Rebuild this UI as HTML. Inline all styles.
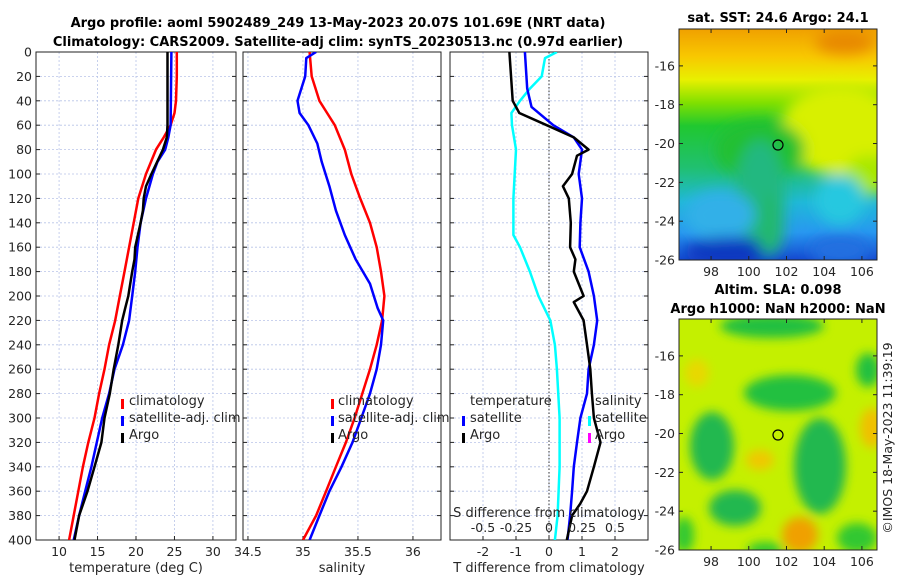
<!DOCTYPE html>
<html><head><meta charset="utf-8">
<style>
html,body{margin:0;padding:0;background:#fff;}
svg{display:block;font-family:"DejaVu Sans","Liberation Sans",sans-serif;}
.tk{font-size:12.5px;fill:#262626;}
.tt{font-size:13px;font-weight:bold;fill:#000;}
.lg{font-size:13px;fill:#262626;}
</style></head>
<body>
<svg id="fig" width="900" height="580" viewBox="0 0 900 580">
<defs>
<filter id="blur1" x="-20%" y="-20%" width="140%" height="140%"><feGaussianBlur stdDeviation="7"/></filter>
<filter id="blur2" x="-20%" y="-20%" width="140%" height="140%"><feGaussianBlur stdDeviation="5"/></filter>
<clipPath id="cm1"><rect x="679" y="29" width="198" height="231"/></clipPath>
<clipPath id="cm2"><rect x="679" y="319" width="198" height="231"/></clipPath>
<clipPath id="cp1"><rect x="36" y="52" width="200" height="488"/></clipPath>
<clipPath id="cp2"><rect x="243" y="52" width="198" height="488"/></clipPath>
<clipPath id="cp3"><rect x="450" y="52" width="198" height="488"/></clipPath>
<linearGradient id="sstg" x1="0" y1="0" x2="0" y2="1">
<stop offset="0" stop-color="#f0a000"/><stop offset="0.12" stop-color="#f8c800"/>
<stop offset="0.22" stop-color="#e8f000"/><stop offset="0.32" stop-color="#80e000"/>
<stop offset="0.42" stop-color="#20c830"/><stop offset="0.6" stop-color="#20c070"/>
<stop offset="0.75" stop-color="#20b8d8"/><stop offset="0.88" stop-color="#2898f0"/>
<stop offset="1" stop-color="#1448d0"/></linearGradient>
</defs>
<text class="tt" x="338" y="27" text-anchor="middle">Argo profile: aoml 5902489_249 13-May-2023 20.07S 101.69E (NRT data)</text>
<text class="tt" x="338" y="46" text-anchor="middle">Climatology: CARS2009. Satellite-adj clim: synTS_20230513.nc (0.97d earlier)</text>

<!-- SST map -->
<g>
<g clip-path="url(#cm1)">
<rect x="679" y="29" width="198" height="231" fill="url(#sstg)"/>
<g filter="url(#blur1)">
<ellipse cx="840" cy="130" rx="60" ry="45" fill="#d8f000"/>
<ellipse cx="870" cy="175" rx="25" ry="20" fill="#a8e800"/>
<ellipse cx="760" cy="150" rx="45" ry="30" fill="#20c030"/>
<ellipse cx="760" cy="195" rx="25" ry="55" fill="#20b880"/>
<ellipse cx="840" cy="200" rx="25" ry="25" fill="#28c8e0"/>
<ellipse cx="720" cy="215" rx="35" ry="25" fill="#30b0e8"/>
<ellipse cx="840" cy="250" rx="30" ry="15" fill="#2070e0"/>
<ellipse cx="730" cy="252" rx="45" ry="15" fill="#1038c0"/>
<ellipse cx="770" cy="225" rx="14" ry="30" fill="#20b870"/>
<ellipse cx="845" cy="42" rx="30" ry="12" fill="#e88800"/>
</g></g>
<rect x="679" y="29" width="198" height="231" fill="none" stroke="#222" stroke-width="1"/>
<circle cx="778" cy="145" r="5" fill="none" stroke="#000" stroke-width="1.2"/>
<text class="tt" x="778" y="22" text-anchor="middle">sat. SST: 24.6 Argo: 24.1</text>
</g>

<!-- SLA map -->
<g>
<g clip-path="url(#cm2)">
<rect x="679" y="319" width="198" height="231" fill="#c4f000"/>
<g filter="url(#blur2)">
<ellipse cx="772" cy="326" rx="52" ry="12" fill="#20c040"/>
<ellipse cx="790" cy="393" rx="46" ry="18" fill="#20c040"/>
<ellipse cx="712" cy="446" rx="22" ry="34" fill="#20b850"/>
<ellipse cx="820" cy="466" rx="26" ry="48" fill="#20b850"/>
<ellipse cx="735" cy="508" rx="26" ry="18" fill="#20b850"/>
<ellipse cx="868" cy="370" rx="12" ry="17" fill="#20c040"/>
<ellipse cx="684" cy="535" rx="10" ry="18" fill="#30c830"/>
<ellipse cx="857" cy="538" rx="20" ry="15" fill="#30c830"/>
<ellipse cx="765" cy="550" rx="18" ry="8" fill="#30c830"/>
<ellipse cx="800" cy="535" rx="18" ry="18" fill="#f0a000"/>
<ellipse cx="760" cy="460" rx="14" ry="10" fill="#f0c800"/>
<ellipse cx="872" cy="428" rx="12" ry="20" fill="#f0c000"/>
<ellipse cx="697" cy="373" rx="12" ry="14" fill="#e8d800"/>
</g></g>
<rect x="679" y="319" width="198" height="231" fill="none" stroke="#222" stroke-width="1"/>
<circle cx="778" cy="435" r="5" fill="none" stroke="#000" stroke-width="1.2"/>
<text class="tt" x="778" y="294" text-anchor="middle">Altim. SLA: 0.098</text>
<text class="tt" x="778" y="313" text-anchor="middle">Argo h1000: NaN h2000: NaN</text>
</g>
<text class="tk" x="0" y="0" transform="translate(892,438) rotate(-90)" text-anchor="middle">©IMOS 18-May-2023 11:39:19</text>
<g id="axes"></g>
</svg>
<script>
// ---- data ----
const depthTClim = [0,20,40,50,60,70,80,100,120,140,160,180,200,220,240,260,280,300,320,340,360,380,400];
const tempClim   = [25.3,25.3,25.2,25.0,24.5,23.6,22.6,21.3,20.3,19.7,19.1,18.5,17.9,17.3,16.5,15.9,15.2,14.6,13.8,13.1,12.5,11.9,11.3];
const depthTSat  = [0,60,70,80,90,100,120,140,160,180,200,220,240,260,280,300,320,340,360,380,400];
const tempSat    = [24.6,24.5,24.2,23.8,22.8,22.2,21.3,20.6,20.2,19.9,19.5,19.1,18.3,17.2,16.5,15.6,14.9,14.2,13.4,12.6,11.9];
const depthTArgo = [0,60,70,80,100,110,120,130,140,160,170,180,200,210,220,240,260,280,300,320,340,360,380,400];
const tempArgo   = [24.1,24.1,24.0,23.5,22.0,21.3,21.0,20.9,20.6,19.9,19.8,19.5,19.0,18.6,18.2,17.7,17.1,16.6,15.9,15.5,14.6,13.7,12.6,12.0];
const depthSClim = [0,20,40,50,60,80,100,120,140,160,180,200,220,240,260,280,300,320,340,360,380,400];
const salClim    = [35.06,35.08,35.15,35.22,35.29,35.38,35.44,35.52,35.61,35.67,35.71,35.74,35.72,35.67,35.61,35.54,35.47,35.39,35.30,35.21,35.12,35.00];
const depthSSat  = [0,5,20,40,50,60,75,90,110,130,150,170,190,210,220,240,260,280,300,320,340,360,380,400];
const salSat     = [35.12,35.03,35.02,34.95,34.97,35.05,35.13,35.17,35.24,35.30,35.38,35.48,35.61,35.68,35.73,35.71,35.67,35.61,35.53,35.45,35.35,35.24,35.15,35.06];
const depthDArgo = [0,40,50,60,70,80,85,100,110,120,140,160,170,180,200,205,220,240,260,280,300,320,340,360,370,380,400];
const tDiffArgo  = [-1.2,-1.1,-0.9,-0.07,0.75,1.2,0.85,0.7,0.42,0.6,0.66,0.64,0.8,0.75,1.05,0.75,1.05,1.15,1.25,1.3,1.36,1.56,1.36,1.15,0.95,0.7,0.54];
const depthDSat  = [0,30,45,60,70,80,100,120,140,160,180,200,220,240,260,280,300,320,340,360,380,400];
const tDiffSat   = [-0.73,-0.66,-0.53,0.13,0.75,1.0,0.9,1.0,0.95,0.93,1.2,1.36,1.46,1.36,1.2,1.15,0.95,0.85,0.75,0.7,0.64,0.56];
const depthDS    = [0,5,20,30,40,50,60,80,100,120,140,150,160,180,200,220,240,260,300,340,380,400];
const sDiffSat   = [0.06,-0.03,-0.055,-0.145,-0.22,-0.285,-0.28,-0.25,-0.26,-0.27,-0.27,-0.27,-0.22,-0.145,-0.08,0.01,0.045,0.06,0.08,0.08,0.065,0.045];
const depthTicks = [0,20,40,60,80,100,120,140,160,180,200,220,240,260,280,300,320,340,360,380,400];
const tTicks = [10,15,20,25,30];
const sTicks = [34.5,35,35.5,36];
const dTicks = [-2,-1,0,1,2];
const sdTicks = [-0.5,-0.25,0,0.25,0.5];
const sdTickLabels = ['-0.5','-0.25','0','0.25','0.5'];
const latTicks = [-16,-18,-20,-22,-24,-26];
const lonTicks = [98,100,102,104,106];

const NS='http://www.w3.org/2000/svg';
const root=document.getElementById('axes');
function mk(tag,attrs,parent){const e=document.createElementNS(NS,tag);for(const k in attrs)e.setAttribute(k,attrs[k]);(parent||root).appendChild(e);return e;}
const Y0=52,Y1=540;
const yD=d=>Y0+(d/400)*(Y1-Y0);
function lin(d0,d1,p0,p1){return v=>p0+(v-d0)/(d1-d0)*(p1-p0);}

const P1={x0:36,x1:236,sx:lin(7,33,36,236)};
const P2={x0:243,x1:441,sx:lin(34.455,36.255,243,441)};
const P3={x0:450,x1:648,sx:lin(-3,3,450,648)};
const sdx=lin(-0.75,0.75,450,648);

function panel(P,ticks,labels,name,showY){
  const g=mk('g',{});
  
  
  depthTicks.forEach(d=>{
    const l=mk('line',{x1:P.x0,x2:P.x1,y1:yD(d),y2:yD(d),stroke:'#b8c4e8','stroke-width':0.8,'stroke-dasharray':'2,2'},g);
    
    mk('line',{x1:P.x0,x2:P.x0+4,y1:yD(d),y2:yD(d),stroke:'#222'},g);
    mk('line',{x1:P.x1,x2:P.x1-4,y1:yD(d),y2:yD(d),stroke:'#222'},g);
    if(showY){const t=mk('text',{x:P.x0-4,y:yD(d)+4.5,'text-anchor':'end',class:'tk'},g);t.textContent=d;
      }
  });
  ticks.forEach((v,i)=>{
    const x=P.sx(v);
    mk('line',{x1:x,x2:x,y1:Y0,y2:Y1,stroke:'#b8c4e8','stroke-width':0.8,'stroke-dasharray':'2,2'},g);
    mk('line',{x1:x,x2:x,y1:Y1,y2:Y1-4,stroke:'#222'},g);
    const t=mk('text',{x:x,y:556,'text-anchor':'middle',class:'tk'},g);t.textContent=labels[i];
    
  });
  mk('rect',{x:P.x0,y:Y0,width:P.x1-P.x0,height:Y1-Y0,fill:'none',stroke:'#222','stroke-width':1},g);
  return g;
}
function line(P,sx,depths,vals,color,clip,name){
  const pts=vals.map((v,i)=>sx(v).toFixed(1)+','+yD(depths[i]).toFixed(1)).join(' ');
  const e=mk('polyline',{points:pts,fill:'none',stroke:color,'stroke-width':2.5,'stroke-linejoin':'round','clip-path':'url(#'+clip+')'});
  
  
}
function txt(x,y,s,cls,anchor,name){const t=mk('text',{x:x,y:y,class:cls,'text-anchor':anchor||'start'});t.textContent=s;
  return t;}
function mark(x,y,c,name){const r=mk('rect',{x:x,y:y-10,width:3,height:10,fill:c});
  }

panel(P1,tTicks,tTicks.map(String),'temperature-panel',true);
panel(P2,sTicks,sTicks.map(String),'salinity-panel',false);
panel(P3,dTicks,dTicks.map(String),'difference-panel',false);

line(P1,P1.sx,depthTClim,tempClim,'#ff0000','cp1','temp-climatology-line');
line(P1,P1.sx,depthTSat,tempSat,'#0000ff','cp1','temp-satellite-line');
line(P1,P1.sx,depthTArgo,tempArgo,'#000000','cp1','temp-argo-line');
line(P2,P2.sx,depthSClim,salClim,'#ff0000','cp2','sal-climatology-line');
line(P2,P2.sx,depthSSat,salSat,'#0000ff','cp2','sal-satellite-line');

const zl=mk('line',{x1:P3.sx(0),x2:P3.sx(0),y1:Y0,y2:Y1,stroke:'#333','stroke-width':1,'stroke-dasharray':'1.5,2'});

line(P3,sdx,depthDS,sDiffSat,'#00ffff','cp3','sal-diff-satellite-line');
line(P3,P3.sx,depthDSat,tDiffSat,'#0000ff','cp3','temp-diff-satellite-line');
line(P3,P3.sx,depthDArgo,tDiffArgo,'#000000','cp3','temp-diff-argo-line');

// S axis labels inside panel 3
txt(549,517,'S difference from climatology','lg','middle','s-diff-axis-title');
sdTicks.forEach((v,i)=>txt(sdx(v),532,sdTickLabels[i],'tk','middle','s-diff-tick-label'));

// axis titles
txt(136,572,'temperature (deg C)','lg','middle','x-axis-title-temperature');
txt(342,572,'salinity','lg','middle','x-axis-title-salinity');
txt(549,572,'T difference from climatology','lg','middle','x-axis-title-tdiff');

// legends
mark(121,409,'#ff0000','legend-marker-climatology');txt(129,405,'climatology','lg','start','legend-climatology');
mark(121,426,'#0000ff','legend-marker-satellite');txt(129,422,'satellite-adj. clim','lg','start','legend-satellite');
mark(121,443,'#000000','legend-marker-argo');txt(129,439,'Argo','lg','start','legend-argo');
mark(331,409,'#ff0000','legend-marker-climatology-s');txt(338,405,'climatology','lg','start','legend-climatology-s');
mark(331,426,'#0000ff','legend-marker-satellite-s');txt(338,422,'satellite-adj. clim','lg','start','legend-satellite-s');
mark(331,443,'#000000','legend-marker-argo-s');txt(338,439,'Argo','lg','start','legend-argo-s');
txt(470,405,'temperature','lg','start','legend-temperature-header');
mark(462,426,'#0000ff','legend-marker-t-satellite');txt(470,422,'satellite','lg','start','legend-t-satellite');
mark(462,443,'#000000','legend-marker-t-argo');txt(470,439,'Argo','lg','start','legend-t-argo');
txt(595,405,'salinity','lg','start','legend-salinity-header');
mark(588,426,'#00ffff','legend-marker-s-satellite');txt(595,422,'satellite','lg','start','legend-s-satellite');
mark(588,443,'#ff00ff','legend-marker-s-argo');txt(595,439,'Argo','lg','start','legend-s-argo');

// map ticks
const latY1=lin(-14.1,-26,29,260), latY2=lin(-14.1,-26,319,550), lonX=lin(96.3,106.8,679,877);
[[latY1,29,260],[latY2,319,550]].forEach(([f,top,bot])=>{
  latTicks.forEach(v=>{const y=f(v);
    mk('line',{x1:679,x2:683,y1:y,y2:y,stroke:'#222'});mk('line',{x1:877,x2:873,y1:y,y2:y,stroke:'#222'});
    txt(675,y+4.5,String(v),'tk','end','map-lat-tick-label');});
  lonTicks.forEach(v=>{const x=lonX(v);
    mk('line',{x1:x,x2:x,y1:bot,y2:bot-4,stroke:'#222'});mk('line',{x1:x,x2:x,y1:top,y2:top+4,stroke:'#222'});
    txt(x,bot+16,String(v),'tk','middle','map-lon-tick-label');});
});
</script>
</body></html>
